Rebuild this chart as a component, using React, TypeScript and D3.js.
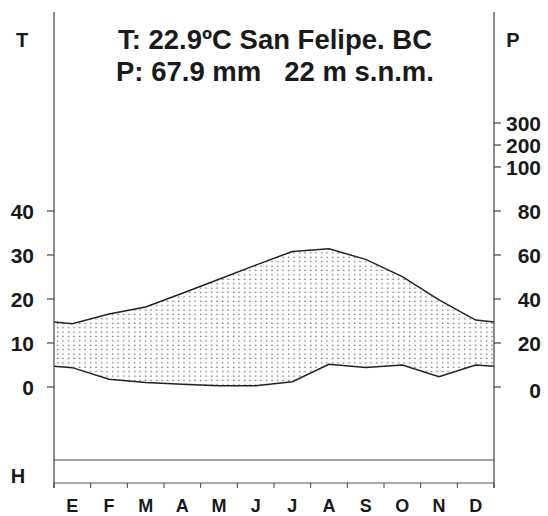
import React from "react";
import * as d3 from "d3";

const months = ["E", "F", "M", "A", "M", "J", "J", "A", "S", "O", "N", "D"];
const temperature = [14.4, 16.6, 18.2, 21.3, 24.5, 27.7, 30.8, 31.4, 29.0, 25.1, 19.8, 15.2];
const precipitation = [8.8, 3.5, 2.0, 1.2, 0.6, 0.6, 2.4, 10.3, 8.9, 10.0, 4.7, 10.0];
const tempTicks = [0, 10, 20, 30, 40];
const precTicks = [0, 20, 40, 60, 80, 100, 200, 300];
const titleLines = ["T: 22.9ºC San Felipe. BC", "P: 67.9 mm   22 m s.n.m."];

const W = 548;
const H = 516;
const left = 54;
const right = 494;
const font = "'Liberation Sans', Arial, sans-serif";

export default function App() {
  const x = d3.scaleBand<number>().domain(d3.range(12)).range([left, right]);
  const cx = (i: number) => (x(i) as number) + x.bandwidth() / 2;
  const yT = d3.scaleLinear().domain([0, 40]).range([387, 211]);
  // walter-lieth: 0-100 mm at 2 mm per degree, above 100 compressed
  const yP = d3.scaleLinear().domain([0, 100, 200, 300]).range([387, 167, 145, 123]);

  // curve runs edge to edge, wrapping Dec/Jan at the borders
  const edgeT = (temperature[0] + temperature[11]) / 2;
  const edgeP = (precipitation[0] + precipitation[11]) / 2;
  const pts = [
    { x: left, t: edgeT, p: edgeP },
    ...months.map((_, i) => ({ x: cx(i), t: temperature[i], p: precipitation[i] })),
    { x: right, t: edgeT, p: edgeP },
  ];

  const area = d3
    .area<any>()
    .x((d) => d.x)
    .y0((d) => yP(d.p))
    .y1((d) => yT(d.t));
  const lineT = d3.line<any>().x((d) => d.x).y((d) => yT(d.t));
  const lineP = d3.line<any>().x((d) => d.x).y((d) => yP(d.p));

  const boundaries = d3.range(13).map((i) => (i < 12 ? (x(i) as number) : right));

  return (
    <svg
      width={W}
      height={H}
      style={{ position: "absolute", left: 0, top: 0, background: "#fff" }}
      fontFamily={font}
      fontWeight="bold"
    >
      <defs>
        <pattern id="dots" width={5.5} height={4.4} patternUnits="userSpaceOnUse">
          <rect x={2} y={1.5} width={1.2} height={1.2} fill="#444" />
        </pattern>
      </defs>

      {/* title */}
      {titleLines.map((t, i) => (
        <text
          key={i}
          x={275}
          y={49 + i * 32}
          textAnchor="middle"
          fontSize={27.5}
          fill="#1a1a1a"
          style={{ whiteSpace: "pre" }}
        >
          {t}
        </text>
      ))}
      <text x={22} y={47} textAnchor="middle" fontSize={20} fill="#1a1a1a">T</text>
      <text x={513} y={47} textAnchor="middle" fontSize={20} fill="#1a1a1a">P</text>
      <text x={18} y={483} textAnchor="middle" fontSize={20} fill="#1a1a1a">H</text>

      {/* dry season */}
      <path d={area(pts) as string} fill="url(#dots)" />
      <path d={lineT(pts) as string} fill="none" stroke="#222" strokeWidth={1.5} />
      <path d={lineP(pts) as string} fill="none" stroke="#222" strokeWidth={1.5} />

      {/* axes */}
      <line x1={left} x2={left} y1={12} y2={488} stroke="#444" strokeWidth={1.2} />
      <line x1={right} x2={right} y1={12} y2={488} stroke="#444" strokeWidth={1.2} />
      {tempTicks.map((t) => (
        <g key={"t" + t}>
          <line x1={left - 7} x2={left} y1={yT(t)} y2={yT(t)} stroke="#444" strokeWidth={1.2} />
          <text x={34} y={yT(t) + 8} textAnchor="end" fontSize={21} fill="#1a1a1a">{t}</text>
        </g>
      ))}
      {precTicks.map((p) => (
        <g key={"p" + p}>
          <line x1={right} x2={right + 7} y1={yP(p)} y2={yP(p)} stroke="#444" strokeWidth={1.2} />
          <text x={541} y={yP(p) + (p === 0 ? 11 : 8)} textAnchor="end" fontSize={21} fill="#1a1a1a">{p}</text>
        </g>
      ))}

      {/* frost box */}
      <line x1={left} x2={right} y1={460} y2={460} stroke="#444" strokeWidth={1.2} />
      <line x1={left} x2={right} y1={483} y2={483} stroke="#555" strokeWidth={1} />
      {boundaries.map((b, i) => (
        <line key={"b" + i} x1={b} x2={b} y1={483} y2={488} stroke="#444" strokeWidth={1} />
      ))}
      {months.map((m, i) => (
        <text key={"m" + i} x={cx(i)} y={512} textAnchor="middle" fontSize={18} fill="#1a1a1a">{m}</text>
      ))}
    </svg>
  );
}
